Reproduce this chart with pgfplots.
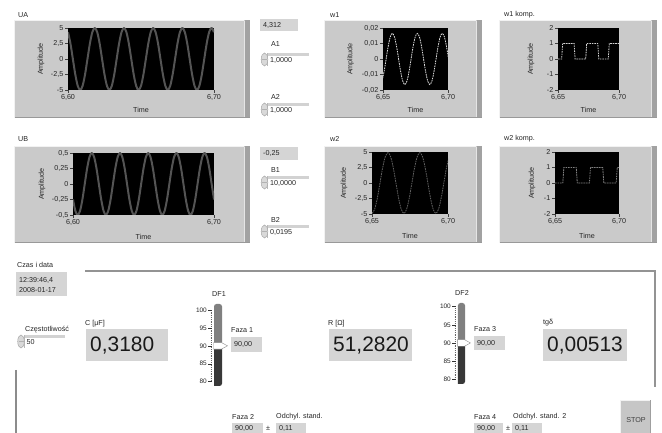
\documentclass[border=0pt]{standalone}
\usepackage{pgfplots}
\pgfplotsset{compat=1.18}
\usepackage{pgfplotstable}
\usepackage{fontspec}
\setmainfont{Liberation Sans}
\definecolor{panel}{HTML}{CACACA}
\definecolor{panelDark}{HTML}{A2A2A2}
\definecolor{indbox}{HTML}{D5D5D5}
\definecolor{waveA}{HTML}{545454}
\newcommand\lv{\fontsize{7.2}{8.6}\selectfont}
\newcommand\bignum{\fontsize{21}{24}\selectfont}

\pgfplotstableread{
t ua ub
6.60000 4.33 -0.25
6.60167 2.5 -0.433
6.60333 0 -0.5
6.60500 -2.5 -0.433
6.60667 -4.33 -0.25
6.60833 -5 0
6.61000 -4.33 0.25
6.61167 -2.5 0.433
6.61333 0 0.5
6.61500 2.5 0.433
6.61667 4.33 0.25
6.61833 5 0
6.62000 4.33 -0.25
6.62167 2.5 -0.433
6.62333 0 -0.5
6.62500 -2.5 -0.433
6.62667 -4.33 -0.25
6.62833 -5 0
6.63000 -4.33 0.25
6.63167 -2.5 0.433
6.63333 0 0.5
6.63500 2.5 0.433
6.63667 4.33 0.25
6.63833 5 0
6.64000 4.33 -0.25
6.64167 2.5 -0.433
6.64333 0 -0.5
6.64500 -2.5 -0.433
6.64667 -4.33 -0.25
6.64833 -5 0
6.65000 -4.33 0.25
6.65167 -2.5 0.433
6.65333 0 0.5
6.65500 2.5 0.433
6.65667 4.33 0.25
6.65833 5 0
6.66000 4.33 -0.25
6.66167 2.5 -0.433
6.66333 0 -0.5
6.66500 -2.5 -0.433
6.66667 -4.33 -0.25
6.66833 -5 0
6.67000 -4.33 0.25
6.67167 -2.5 0.433
6.67333 0 0.5
6.67500 2.5 0.433
6.67667 4.33 0.25
6.67833 5 0
6.68000 4.33 -0.25
6.68167 2.5 -0.433
6.68333 0 -0.5
6.68500 -2.5 -0.433
6.68667 -4.33 -0.25
6.68833 -5 0
6.69000 -4.33 0.25
6.69167 -2.5 0.433
6.69333 0 0.5
6.69500 2.5 0.433
6.69667 4.33 0.25
6.69833 5 0
6.70000 4.33 -0.25
}\tabU

\pgfplotstableread{
t w
6.6492 -0.01429
6.6508 -0.00825
6.6524 0
6.6540 0.00825
6.6556 0.01429
6.6572 0.0165
6.6588 0.01429
6.6604 0.00825
6.6620 0
6.6636 -0.00825
6.6652 -0.01429
6.6668 -0.0165
6.6684 -0.01429
6.6700 -0.00825
6.6716 0
6.6732 0.00825
6.6748 0.01429
6.6764 0.0165
6.6780 0.01429
6.6796 0.00825
6.6812 0
6.6828 -0.00825
6.6844 -0.01429
6.6860 -0.0165
6.6876 -0.01429
6.6892 -0.00825
6.6908 0
6.6924 0.00825
6.6940 0.01429
6.6956 0.0165
6.6972 0.01429
6.6988 0.00825
6.7004 0
}\tabWa

\pgfplotstableread{
t w
6.65000 -4.9
6.65175 -4.24
6.65350 -2.45
6.65525 0
6.65700 2.45
6.65875 4.24
6.66050 4.9
6.66225 4.24
6.66400 2.45
6.66575 0
6.66750 -2.45
6.66925 -4.24
6.67100 -4.9
6.67275 -4.24
6.67450 -2.45
6.67625 0
6.67800 2.45
6.67975 4.24
6.68150 4.9
6.68325 4.24
6.68500 2.45
6.68675 0
6.68850 -2.45
6.69025 -4.24
6.69200 -4.9
6.69375 -4.24
6.69550 -2.45
6.69725 0
6.69900 2.45
6.70075 4.24
}\tabWb

\pgfplotsset{
 lvg/.style={scale only axis, anchor=south west, clip=true,
  axis background/.style={fill=black},
  axis line style={draw=none},
  scaled ticks=false,
  tick align=outside, tick pos=left,
  major tick length=3bp,
  tick style={black!75, line width=0.5bp},
  ticklabel style={font=\lv, text=black!85, inner sep=1.5bp},
  label style={font=\lv, text=black!85},
  xlabel={Time}, ylabel={Amplitude},
 },
 ylab/.style={ylabel style={at={(axis description cs:#1,0.5)}, anchor=center}},
 xlab/.style={xlabel style={at={(axis description cs:0.5,#1)}, anchor=center}},
 lvs/.style={scale only axis, anchor=south west, clip=false,
  axis line style={draw=none}, xtick=\empty, xmin=0, xmax=1,
  ytick={80,85,90,95,100}, yticklabels={80,85,90,95,100},
  minor y tick num=9, tick align=outside, tick pos=left,
  major tick length=4bp, minor tick length=1.5bp,
  tick style={black!80, line width=0.5bp},
  minor tick style={black!60, line width=0.4bp},
  yticklabel style={font=\fontsize{6.5}{7}\selectfont, text=black!85, inner sep=1bp},
 }
}

\newcommand\lvframe[4]{%
 \fill[panel] (#1,433-#4) rectangle (#3,433-#2);
 \fill[panelDark] (#3-5,433-#4) rectangle (#3,433-#2);
 \draw[white!80!gray, line width=0.8] (#3-5.5,433-#4+1) -- (#3-5.5,433-#2-1);
 \draw[gray!80, line width=0.8] (#1,433-#4+0.4) -- (#3,433-#4+0.4);
 \draw[white!90!gray, line width=0.6] (#1+0.3,433-#4) -- (#1+0.3,433-#2) -- (#3-6,433-#2);
}
\newcommand\ind[5]{%
 \fill[indbox] (#1,433-#4) rectangle (#3,433-#2);
 \node[anchor=west, font=\lv, inner sep=0, text=black!85] at (#1+3,433-#2/2-#4/2) {#5};}
\newcommand\indb[6]{% box with text at given y
 \fill[indbox] (#1,433-#4) rectangle (#3,433-#2);
 \node[anchor=west, font=\lv, inner sep=0, text=black!85] at (#1+3,433-#6) {#5};}
\newcommand\ctl[4]{% spinner x, ytop, ybottom, text
 \fill[white] (#1+3,433-#3) rectangle (#1+44,433-#2);
 \fill[gray!35] (#1+3,433-#2-3) rectangle (#1+44,433-#2);
 \draw[gray!55, line width=0.5] (#1+3,433-#3) -- (#1+3,433-#2);
 \filldraw[fill=gray!30, draw=gray!70, line width=0.5] (#1,433-#2/2-#3/2) ellipse (3.3 and 6.5);
 \draw[gray!60, line width=0.4] (#1-2.5,433-#2/2-#3/2) -- (#1+2.5,433-#2/2-#3/2);
 \node[anchor=west, font=\lv, inner sep=0, text=black!85] at (#1+5.5,433-#2/2-#3/2-1) {#4};}

\begin{document}
\begin{tikzpicture}[x=1bp,y=1bp]
\useasboundingbox (0,0) rectangle (662,433);
\clip (0,0) rectangle (662,433);
\fill[white] (0,0) rectangle (662,433);

% graph frames
\lvframe{14}{20}{250}{118}
\lvframe{14}{146}{250}{243}
\lvframe{324}{20}{482}{118}
\lvframe{324}{146}{482}{243}
\lvframe{499}{20}{657}{118}
\lvframe{499}{146}{657}{243}

% titles
\begin{scope}[every node/.style={font=\lv, anchor=west, inner sep=0, text=black!85}]
\node at (18,433-15) {UA};
\node at (18,433-139) {UB};
\node at (330,433-15) {w1};
\node at (330,433-139) {w2};
\node at (504,433-15) {w1 komp.};
\node at (504,433-139) {w2 komp.};
\node at (271,433-44) {A1};
\node at (271,433-97) {A2};
\node at (271,433-170) {B1};
\node at (271,433-220) {B2};
\node at (17,433-265) {Czas i data};
\node at (25,433-330) {Częstotliwość};
\node at (85,433-324) {C [μF]};
\node at (328,433-324) {R [Ω]};
\node at (543,433-323) {tgδ};
\node at (231,433-330) {Faza 1};
\node at (474,433-329) {Faza 3};
\node at (232,433-417) {Faza 2};
\node at (276,433-417) {Odchyl. stand.};
\node at (474,433-417) {Faza 4};
\node at (513,433-417) {Odchyl. stand. 2};
\node at (266,433-428.5) {±};
\node at (506,433-428.5) {±};
\node[anchor=center] at (219,433-294) {DF1};
\node[anchor=center] at (462,433-293) {DF2};
\end{scope}

% indicators
\ind{260}{19}{298}{31}{4,312}
\ind{260}{147}{298}{160}{-0,25}
\ctl{264.5}{53}{66}{1,0000}
\ctl{264.5}{103}{116}{1,0000}
\ctl{264.5}{176}{189}{10,0000}
\ctl{264.5}{225}{238}{0,0195}
\ctl{21}{335}{348}{50}

\fill[indbox] (16,433-296) rectangle (67,433-272);
\node[font=\lv, anchor=west, inner sep=0, text=black!85] at (19,433-280) {12:39:46,4};
\node[font=\lv, anchor=west, inner sep=0, text=black!85] at (19,433-290) {2008-01-17};

% big indicators
\fill[indbox] (86,433-361) rectangle (168,433-329);
\node[font=\bignum, anchor=west, inner sep=0, text=black!90] at (90,433-346) {0,3180};
\fill[indbox] (329,433-361) rectangle (412,433-329);
\node[font=\bignum, anchor=west, inner sep=0, text=black!90] at (333,433-346) {51,2820};
\fill[indbox] (543,433-361) rectangle (627,433-329);
\node[font=\bignum, anchor=west, inner sep=0, text=black!90] at (547,433-346) {0,00513};

\ind{231}{337}{262}{352}{90,00}
\ind{474}{336}{505}{350}{90,00}
\indb{232}{423}{263}{440}{90,00}{428.5}
\indb{276}{423}{306}{440}{0,11}{428.5}
\indb{474}{423}{503}{440}{90,00}{428.5}
\indb{512}{423}{542}{440}{0,11}{428.5}

% decoration lines
\draw[gray!85, line width=1.3] (85,433-271) -- (655,433-271) -- (655,433-387);
\draw[gray!90, line width=1.3] (16,433-370) -- (16,0);

% STOP button
\fill[gray!45] (620,433-436) rectangle (651,433-400);
\draw[white!90!gray, line width=1] (620.5,433-436) -- (620.5,433-400.5) -- (650.5,433-400.5);
\draw[gray!75, line width=1] (650.5,433-400.5) -- (650.5,433-436);
\node[font=\lv, text=black!75] at (636,433-420) {STOP};

% graphs
\begin{axis}[lvg, at={(68bp,343bp)}, width=146bp, height=62bp,
  xmin=6.6, xmax=6.7, ymin=-5, ymax=5,
  xtick={6.6,6.7}, xticklabels={{6,60},{6,70}},
  ytick={-5,-2.5,0,2.5,5}, yticklabels={{-5},{-2,5},{0},{2,5},{5}},
  ylab=-0.185, xlab=-0.323]
\addplot[waveA, line width=2bp, smooth] table[x=t,y=ua]{\tabU};
\end{axis}

\begin{axis}[lvg, at={(73bp,218bp)}, width=141bp, height=62bp,
  xmin=6.6, xmax=6.7, ymin=-0.5, ymax=0.5,
  xtick={6.6,6.7}, xticklabels={{6,60},{6,70}},
  ytick={-0.5,-0.25,0,0.25,0.5}, yticklabels={{-0,5},{-0,25},{0},{0,25},{0,5}},
  ylab=-0.22, xlab=-0.355]
\addplot[waveA, line width=2bp, smooth] table[x=t,y=ub]{\tabU};
\end{axis}

\begin{axis}[lvg, at={(383bp,343bp)}, width=65bp, height=62bp,
  xmin=6.65, xmax=6.7, ymin=-0.02, ymax=0.02,
  xtick={6.65,6.7}, xticklabels={{6,65},{6,70}},
  ytick={-0.02,-0.01,0,0.01,0.02}, yticklabels={{-0,02},{-0,01},{0},{0,01},{0,02}},
  ylab=-0.5, xlab=-0.323]
\addplot[gray!25, line width=0.8bp, dash pattern=on 1.6bp off 0.9bp, smooth] table[x=t,y=w]{\tabWa};
\end{axis}

\begin{axis}[lvg, at={(372bp,219bp)}, width=76bp, height=62bp,
  xmin=6.65, xmax=6.7, ymin=-5, ymax=5,
  xtick={6.65,6.7}, xticklabels={{6,65},{6,70}},
  ytick={-5,-2.5,0,2.5,5}, yticklabels={{-5},{-2,5},{0},{2,5},{5}},
  ylab=-0.368, xlab=-0.355]
\addplot[black!62, line width=0.8bp, dash pattern=on 1.6bp off 0.9bp, smooth] table[x=t,y=w]{\tabWb};
\end{axis}

\begin{axis}[lvg, at={(558bp,343bp)}, width=61bp, height=62bp,
  xmin=6.65, xmax=6.7, ymin=-2, ymax=2,
  xtick={6.65,6.7}, xticklabels={{6,65},{6,70}},
  ytick={-2,-1,0,1,2}, yticklabels={{-2},{-1},{0},{1},{2}},
  ylab=-0.443, xlab=-0.323]
\addplot[gray!35, line width=0.8bp, dash pattern=on 1.6bp off 0.9bp] coordinates {
(6.6500,0) (6.6530,0) (6.6538,1) (6.6632,1) (6.6640,0) (6.6727,0) (6.6735,1)
(6.6826,1) (6.6834,0) (6.6912,0) (6.6920,1) (6.7000,1)};
\end{axis}

\begin{axis}[lvg, at={(555bp,219bp)}, width=64bp, height=62bp,
  xmin=6.65, xmax=6.7, ymin=-2, ymax=2,
  xtick={6.65,6.7}, xticklabels={{6,65},{6,70}},
  ytick={-2,-1,0,1,2}, yticklabels={{-2},{-1},{0},{1},{2}},
  ylab=-0.359, xlab=-0.355]
\addplot[black!50, line width=0.8bp, dash pattern=on 1.6bp off 0.9bp] coordinates {
(6.6500,0) (6.6561,0) (6.6569,1) (6.6666,1) (6.6674,0) (6.6769,0) (6.6777,1)
(6.6873,1) (6.6881,0) (6.6978,0) (6.6986,1) (6.7000,1)};
\end{axis}

% sliders
\begin{axis}[lvs, at={(212bp,47bp)}, width=10bp, height=82bp, ymin=78.8, ymax=101.67]
\addplot[fill=black!78, draw=none, rounded corners=2.5bp] coordinates {(0.2,78.8) (1,78.8) (1,90) (0.2,90) (0.2,78.8)};
\addplot[fill=black!50, draw=none, rounded corners=2.5bp] coordinates {(0.2,90) (1,90) (1,101.67) (0.2,101.67) (0.2,90)};
\addplot[fill=white, draw=black!45, line width=0.4bp] coordinates {(0.15,90.9) (0.95,90.9) (1.55,90) (0.95,89.1) (0.15,89.1) (0.15,90.9)};
\end{axis}

\begin{axis}[lvs, at={(456bp,49bp)}, width=9bp, height=81bp, ymin=78.7, ymax=101]
\addplot[fill=black!78, draw=none, rounded corners=2.5bp] coordinates {(0.22,78.7) (1,78.7) (1,90) (0.22,90) (0.22,78.7)};
\addplot[fill=black!50, draw=none, rounded corners=2.5bp] coordinates {(0.22,90) (1,90) (1,101) (0.22,101) (0.22,90)};
\addplot[fill=white, draw=black!45, line width=0.4bp] coordinates {(0.15,90.9) (0.95,90.9) (1.6,90) (0.95,89.1) (0.15,89.1) (0.15,90.9)};
\end{axis}
\end{tikzpicture}
\end{document}
